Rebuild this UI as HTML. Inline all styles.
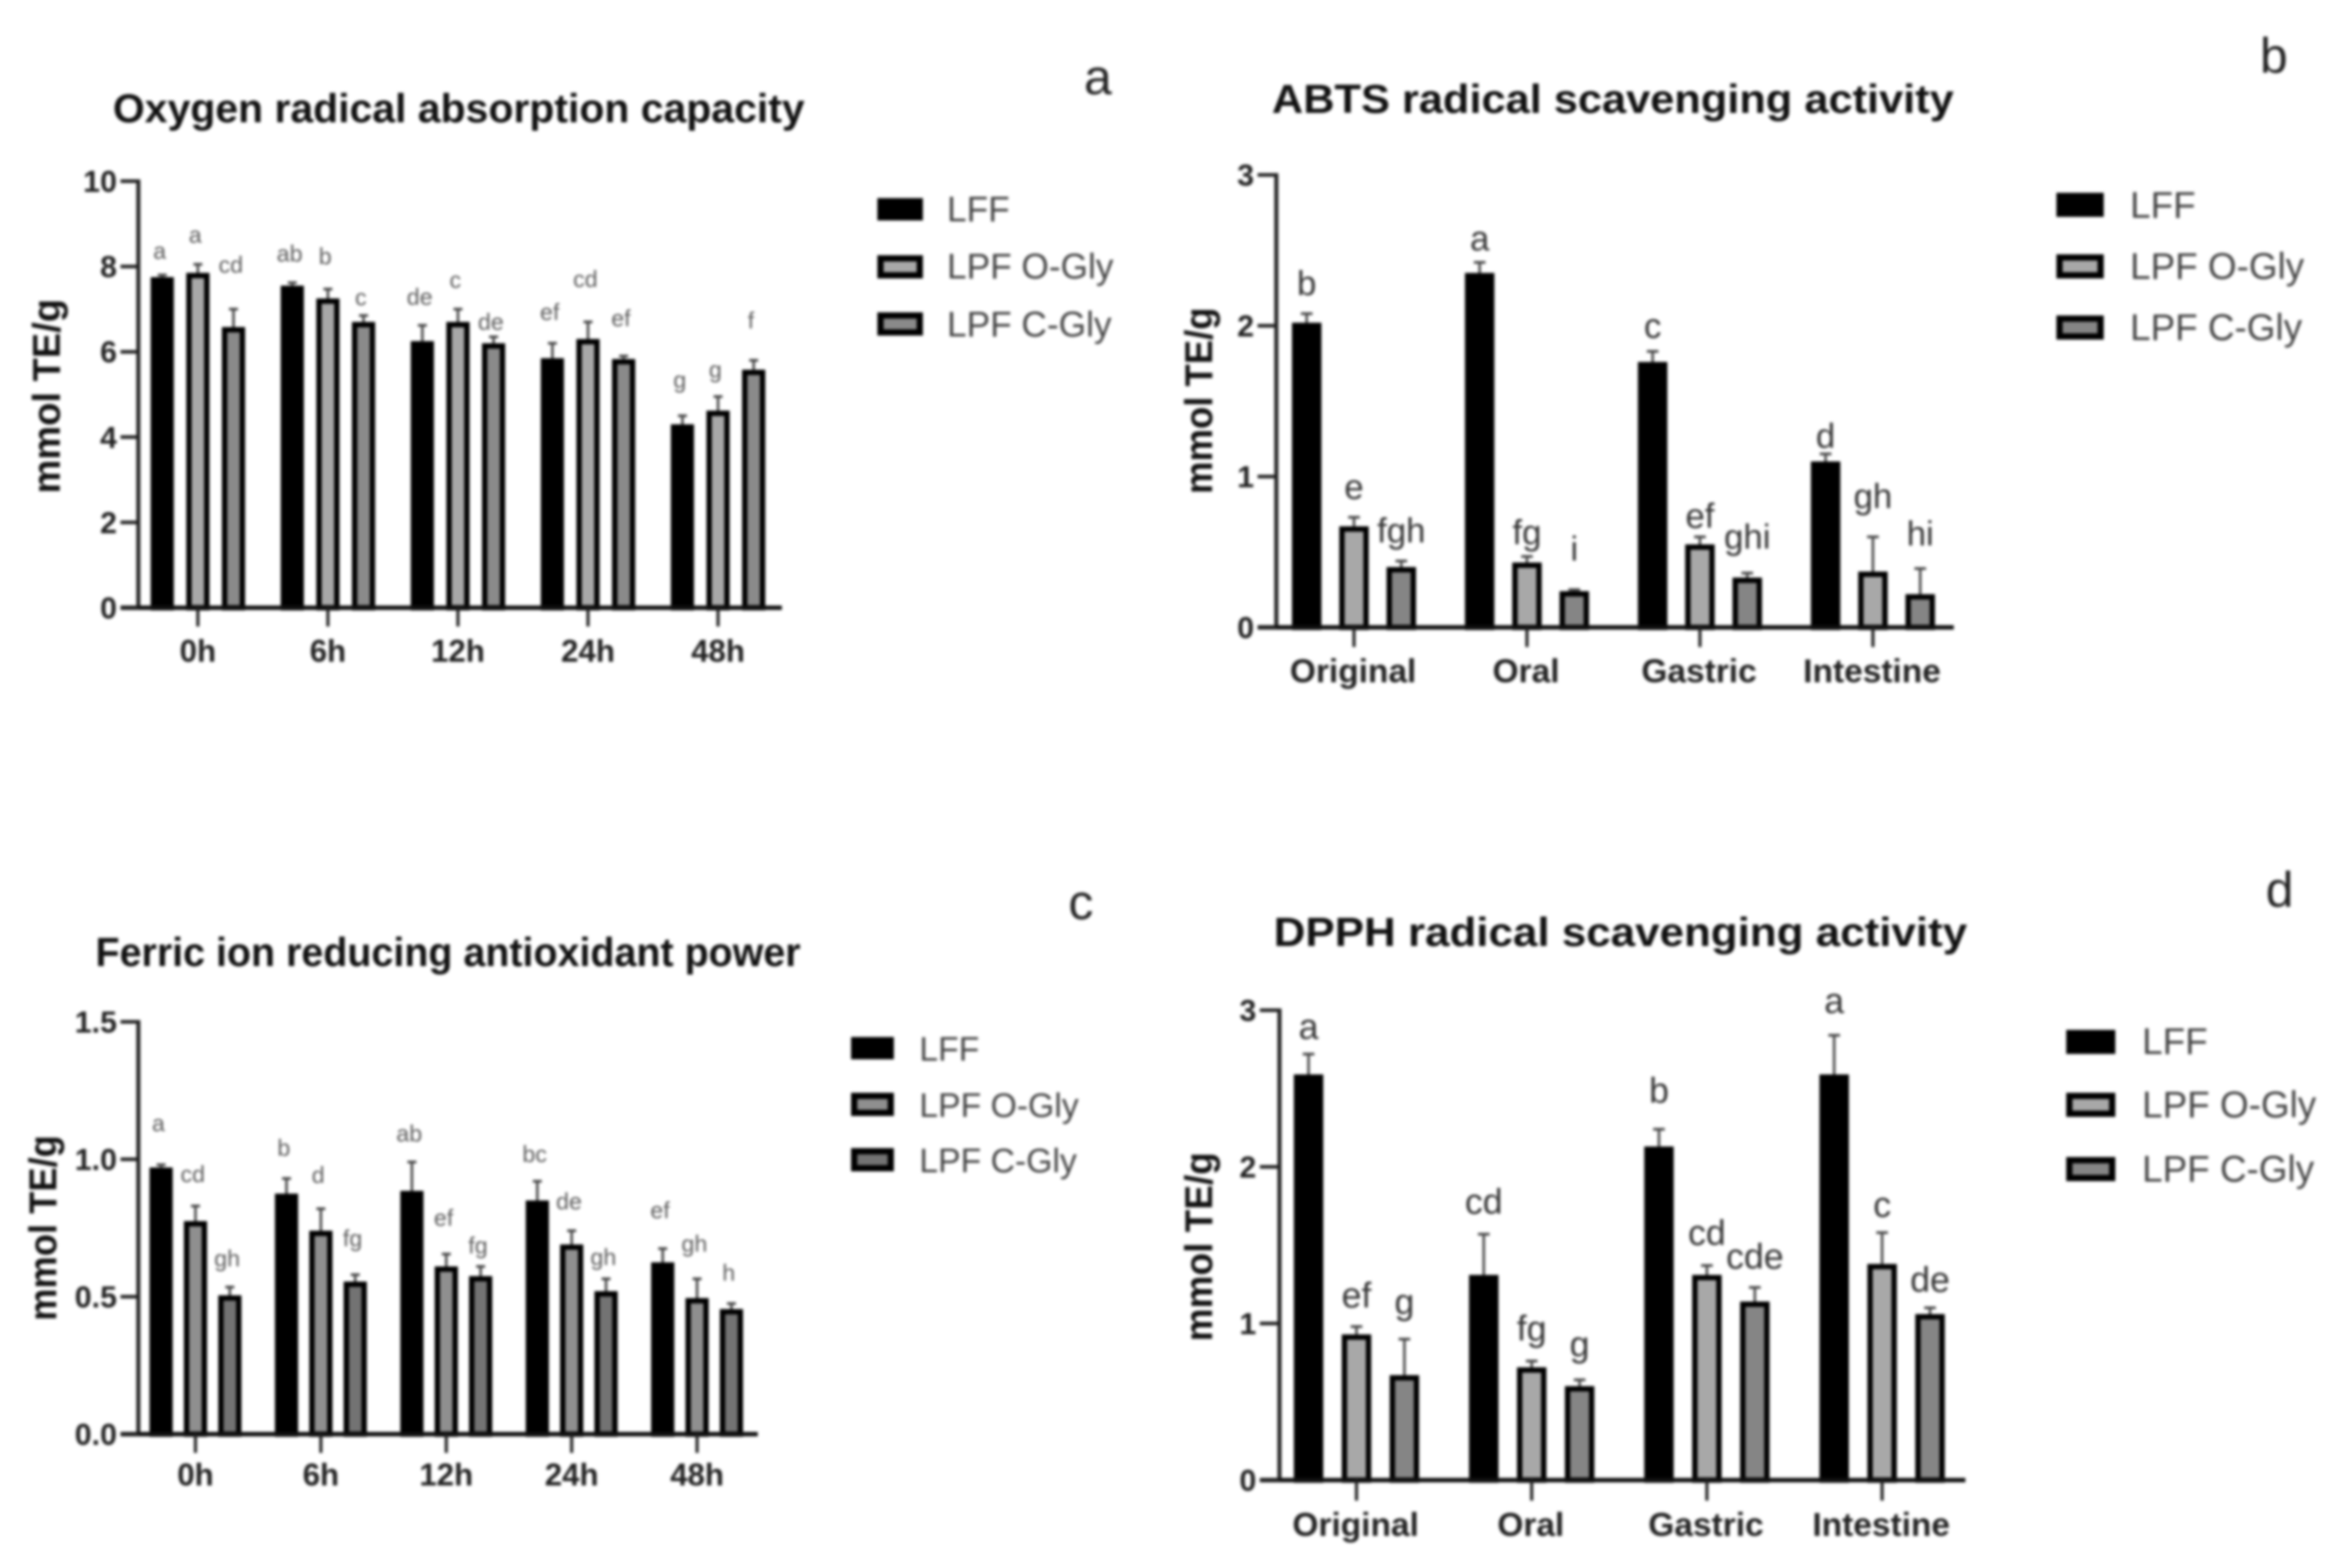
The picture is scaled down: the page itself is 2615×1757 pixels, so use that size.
<!DOCTYPE html>
<html lang="en">
<head>
<meta charset="utf-8">
<title>Antioxidant activity bar charts</title>
<style>
html,body{margin:0;padding:0;background:#fff;}
svg{display:block;filter:blur(1.5px);font-family:"Liberation Sans",sans-serif;}
.title{font-weight:700;font-size:45px;fill:#111;}
.ytitle{font-weight:700;font-size:44px;fill:#111;text-anchor:middle;}
.legend{fill:#444;}
.letter{font-size:56px;fill:#222;}
</style>
</head>
<body>
<svg id="chart" width="2615" height="1757" viewBox="0 0 2615 1757" xmlns="http://www.w3.org/2000/svg">
<rect width="2615" height="1757" fill="#fff"/>

<g id="panel-a">
  <text class="title" x="126.5" y="137" textLength="775" lengthAdjust="spacingAndGlyphs">Oxygen radical absorption capacity</text>
  <text class="ytitle" transform="translate(67,444) rotate(-90)" textLength="218" lengthAdjust="spacingAndGlyphs">mmol TE/g</text>
  <text class="letter" x="1214.5" y="105.5">a</text>
  <g font-size="39.5">
    <rect x="983" y="222" width="51" height="25" fill="#000"/>
    <text class="legend" x="1061" y="248">LFF</text>
    <rect x="986.5" y="289.5" width="44" height="19" fill="#a8a8a8" stroke="#000" stroke-width="7"/>
    <text class="legend" x="1061" y="312">LPF O-Gly</text>
    <rect x="986.5" y="353.5" width="44" height="19" fill="#8a8a8a" stroke="#000" stroke-width="7"/>
    <text class="legend" x="1061" y="377">LPF C-Gly</text>
  </g>
</g>

<g id="panel-b">
  <text class="title" x="1425" y="126.5" textLength="764" lengthAdjust="spacingAndGlyphs">ABTS radical scavenging activity</text>
  <text class="ytitle" transform="translate(1358,449) rotate(-90)" textLength="209" lengthAdjust="spacingAndGlyphs">mmol TE/g</text>
  <text class="letter" x="2532" y="81.5">b</text>
  <g font-size="41.3">
    <rect x="2304" y="216" width="53" height="27" fill="#000"/>
    <text class="legend" x="2386.5" y="244">LFF</text>
    <rect x="2307.5" y="288.5" width="46" height="20" fill="#a8a8a8" stroke="#000" stroke-width="7"/>
    <text class="legend" x="2386.5" y="312.5">LPF O-Gly</text>
    <rect x="2307.5" y="357" width="46" height="20" fill="#858585" stroke="#000" stroke-width="7"/>
    <text class="legend" x="2386.5" y="381">LPF C-Gly</text>
  </g>
</g>

<g id="panel-c">
  <text class="title" x="107" y="1082.5" textLength="790" lengthAdjust="spacingAndGlyphs">Ferric ion reducing antioxidant power</text>
  <text class="ytitle" transform="translate(63,1376) rotate(-90)" textLength="208" lengthAdjust="spacingAndGlyphs">mmol TE/g</text>
  <text class="letter" x="1197" y="1030">c</text>
  <g font-size="37.8">
    <rect x="953.5" y="1162" width="48" height="25" fill="#000"/>
    <text class="legend" x="1030" y="1188.5">LFF</text>
    <rect x="957" y="1228" width="41" height="19" fill="#8f8f8f" stroke="#000" stroke-width="7"/>
    <text class="legend" x="1030" y="1251.5">LPF O-Gly</text>
    <rect x="957" y="1290" width="41" height="19" fill="#737373" stroke="#000" stroke-width="7"/>
    <text class="legend" x="1030" y="1313.5">LPF C-Gly</text>
  </g>
</g>

<g id="panel-d">
  <text class="title" x="1427" y="1060" textLength="777" lengthAdjust="spacingAndGlyphs">DPPH radical scavenging activity</text>
  <text class="ytitle" transform="translate(1358,1397) rotate(-90)" textLength="212" lengthAdjust="spacingAndGlyphs">mmol TE/g</text>
  <text class="letter" x="2538.5" y="1016">d</text>
  <g font-size="41.3">
    <rect x="2315" y="1154" width="55" height="27" fill="#000"/>
    <text class="legend" x="2400" y="1181">LFF</text>
    <rect x="2318.5" y="1228" width="48" height="20" fill="#a8a8a8" stroke="#000" stroke-width="7"/>
    <text class="legend" x="2400" y="1252">LPF O-Gly</text>
    <rect x="2318.5" y="1300" width="48" height="20" fill="#858585" stroke="#000" stroke-width="7"/>
    <text class="legend" x="2400" y="1324">LPF C-Gly</text>
  </g>
</g>
</svg>

<script>
// Categories and tick labels
const timeCategories = ['0h', '6h', '12h', '24h', '48h'];
const stageCategories = ['Original', 'Oral', 'Gastric', 'Intestine'];
const aTicks = ['0', '2', '4', '6', '8', '10'];
const bTicks = ['0', '1', '2', '3'];
const cTicks = ['0.0', '0.5', '1.0', '1.5'];
const dTicks = ['0', '1', '2', '3'];

// Panel a: ORAC
const aLff = [7.75, 7.55, 6.25, 5.85, 4.3];
const aOGly = [7.85, 7.25, 6.7, 6.3, 4.62];
const aCGly = [6.58, 6.7, 6.2, 5.83, 5.58];
const aLffErr = [0.05, 0.07, 0.37, 0.35, 0.2];
const aOGlyErr = [0.2, 0.22, 0.3, 0.4, 0.33];
const aCGlyErr = [0.42, 0.15, 0.15, 0.07, 0.22];
const aLffSig = ['a', 'ab', 'de', 'ef', 'g'];
const aOGlySig = ['a', 'b', 'c', 'cd', 'g'];
const aCGlySig = ['cd', 'c', 'de', 'ef', 'f'];
const aLffLift = [0.54, 0.66, 0.65, 0.71, 0.82];
const aOGlyLift = [0.67, 0.75, 0.66, 0.98, 0.61];
const aCGlyLift = [1.02, 0.41, 0.33, 0.86, 0.91];

// Panel b: ABTS
const bLff = [2.02, 2.35, 1.76, 1.1];
const bOGly = [0.67, 0.43, 0.55, 0.37];
const bCGly = [0.4, 0.24, 0.33, 0.22];
const bLffErr = [0.06, 0.07, 0.07, 0.05];
const bOGlyErr = [0.06, 0.04, 0.05, 0.23];
const bCGlyErr = [0.04, 0.01, 0.03, 0.17];
const bLffSig = ['b', 'a', 'c', 'd'];
const bOGlySig = ['e', 'fg', 'ef', 'gh'];
const bCGlySig = ['fgh', 'i', 'ghi', 'hi'];
const bLffLift = [0.19, 0.15, 0.16, 0.11];
const bOGlyLift = [0.19, 0.15, 0.13, 0.26];
const bCGlyLift = [0.19, 0.26, 0.23, 0.22];

// Panel c: FRAP
const cLff = [0.97, 0.875, 0.885, 0.85, 0.625];
const cOGly = [0.775, 0.74, 0.61, 0.69, 0.495];
const cCGly = [0.505, 0.555, 0.575, 0.52, 0.455];
const cLffErr = [0.01, 0.055, 0.105, 0.07, 0.05];
const cOGlyErr = [0.055, 0.08, 0.045, 0.05, 0.07];
const cCGlyErr = [0.03, 0.025, 0.035, 0.045, 0.02];
const cLffSig = ['a', 'b', 'ab', 'bc', 'ef'];
const cOGlySig = ['cd', 'd', 'ef', 'de', 'gh'];
const cCGlySig = ['gh', 'fg', 'fg', 'gh', 'h'];
const cLffLift = [0.148, 0.109, 0.101, 0.096, 0.136];
const cOGlyLift = [0.112, 0.119, 0.128, 0.103, 0.124];
const cCGlyLift = [0.1, 0.128, 0.072, 0.075, 0.108];

// Panel d: DPPH
const dLff = [2.59, 1.31, 2.13, 2.59];
const dOGly = [0.93, 0.72, 1.31, 1.38];
const dCGly = [0.67, 0.6, 1.14, 1.06];
const dLffErr = [0.13, 0.26, 0.11, 0.25];
const dOGlyErr = [0.05, 0.04, 0.06, 0.2];
const dCGlyErr = [0.23, 0.04, 0.09, 0.04];
const dLffSig = ['a', 'cd', 'b', 'a'];
const dOGlySig = ['ef', 'fg', 'cd', 'c'];
const dCGlySig = ['g', 'g', 'cde', 'de'];
const dLffLift = [0.165, 0.2, 0.24, 0.21];
const dOGlyLift = [0.19, 0.2, 0.2, 0.17];
const dCGlyLift = [0.23, 0.22, 0.19, 0.17];

const SVG_NS = 'http://www.w3.org/2000/svg';

function make(parent, tag, props) {
  const el = document.createElementNS(SVG_NS, tag);
  for (const k in props) el.setAttribute(k, props[k]);
  parent.appendChild(el);
  return el;
}

function drawPanel(cfg) {
  const root = document.getElementById(cfg.id);
  const yScale = v => cfg.y0 + (cfg.yTop - cfg.y0) * (v / cfg.yMax);
  const xGroup = i => cfg.x0 + cfg.step * i;
  const tickCount = cfg.ticks.length;

  cfg.series.forEach((s, si) => {
    s.values.forEach((v, i) => {
      const cx = xGroup(i) + (si - 1) * cfg.gap;
      const topPx = yScale(v + s.err[i]);

      const whisker = make(root, 'line', {x1: cx, x2: cx, y1: yScale(v), y2: topPx, stroke: '#444', 'stroke-width': 2.8});
      
      

      const cap = make(root, 'line', {x1: cx - cfg.cap, x2: cx + cfg.cap, y1: topPx, y2: topPx, stroke: '#444', 'stroke-width': 3});
      
      

      const inset = cfg.border / 2;
      const bar = make(root, 'rect', {
        x: cx - cfg.barW / 2 + inset,
        y: yScale(v) + inset,
        width: cfg.barW - cfg.border,
        height: Math.max(0, cfg.y0 - yScale(v) - inset),
        fill: s.fill,
        stroke: '#000',
        'stroke-width': cfg.border
      });
      
      

      const lab = make(root, 'text', {
        x: cx + cfg.sigDx,
        y: topPx - (cfg.y0 - cfg.yTop) * (s.lift[i] / cfg.yMax) + cfg.sigSize * 0.3,
        'text-anchor': 'middle',
        'font-size': cfg.sigSize,
        fill: cfg.sigColor
      });
      
      
      lab.textContent = s.sig[i];
    });
  });

  const yAxis = make(root, 'line', {x1: cfg.axisX, x2: cfg.axisX, y1: cfg.yTop - 2, y2: cfg.y0 + 2, stroke: '#222', 'stroke-width': 4.5});
  
  

  const xAxis = make(root, 'line', {x1: cfg.axisX - cfg.tickLen, x2: cfg.xEnd, y1: cfg.y0, y2: cfg.y0, stroke: '#111', 'stroke-width': 5});
  
  

  cfg.ticks.forEach((t, i) => {
    const y = cfg.y0 + (cfg.yTop - cfg.y0) * (i / (tickCount - 1));
    const mark = make(root, 'line', {x1: cfg.axisX - cfg.tickLen, x2: cfg.axisX, y1: y, y2: y, stroke: '#222', 'stroke-width': 4});
    
    

    const lab = make(root, 'text', {x: cfg.axisX - cfg.tickLen - 4, y: y + 12, 'text-anchor': 'end', 'font-size': 34, 'font-weight': 700, fill: '#222'});
    
    
    lab.textContent = t;
  });

  cfg.categories.forEach((c, i) => {
    const x = xGroup(i);
    const mark = make(root, 'line', {x1: x, x2: x, y1: cfg.y0, y2: cfg.y0 + cfg.tickLen + 1, stroke: '#222', 'stroke-width': 3.5});
    
    

    const lab = make(root, 'text', {x: x + cfg.catDx, y: cfg.catY, 'text-anchor': 'middle', 'font-size': cfg.catSize, 'font-weight': 700, fill: '#222'});
    
    
    lab.textContent = c;
  });
}

const fillO = '#a8a8a8', fillC = '#8a8a8a';

drawPanel({
  id: 'panel-a', axisX: 155, xEnd: 876, y0: 681, yTop: 203, yMax: 10,
  x0: 221.7, step: 145.7, gap: 39.9, barW: 26, border: 6, cap: 5, tickLen: 20,
  catY: 741.5, catSize: 35, catDx: 0, sigSize: 26, sigColor: '#5c5c5c', sigDx: -3,
  ticks: aTicks, categories: timeCategories,
  series: [
    {values: aLff, err: aLffErr, sig: aLffSig, lift: aLffLift, fill: '#000'},
    {values: aOGly, err: aOGlyErr, sig: aOGlySig, lift: aOGlyLift, fill: fillO},
    {values: aCGly, err: aCGlyErr, sig: aCGlySig, lift: aCGlyLift, fill: fillC}
  ]
});

drawPanel({
  id: 'panel-b', axisX: 1430, xEnd: 2189, y0: 703, yTop: 196, yMax: 3,
  x0: 1517, step: 193.8, gap: 53, barW: 33, border: 6, cap: 6.5, tickLen: 21,
  catY: 764.5, catSize: 37.5, catDx: -1, sigSize: 39, sigColor: '#333', sigDx: 0,
  ticks: bTicks, categories: stageCategories,
  series: [
    {values: bLff, err: bLffErr, sig: bLffSig, lift: bLffLift, fill: '#000'},
    {values: bOGly, err: bOGlyErr, sig: bOGlySig, lift: bOGlyLift, fill: fillO},
    {values: bCGly, err: bCGlyErr, sig: bCGlySig, lift: bCGlyLift, fill: '#858585'}
  ]
});

drawPanel({
  id: 'panel-c', axisX: 155, xEnd: 849, y0: 1607, yTop: 1145, yMax: 1.5,
  x0: 219, step: 140.5, gap: 38.5, barW: 26, border: 6, cap: 5, tickLen: 20,
  catY: 1664.5, catSize: 35, catDx: 0, sigSize: 26, sigColor: '#5c5c5c', sigDx: -3,
  ticks: cTicks, categories: timeCategories,
  series: [
    {values: cLff, err: cLffErr, sig: cLffSig, lift: cLffLift, fill: '#000'},
    {values: cOGly, err: cOGlyErr, sig: cOGlySig, lift: cOGlyLift, fill: '#8f8f8f'},
    {values: cCGly, err: cCGlyErr, sig: cCGlySig, lift: cCGlyLift, fill: '#737373'}
  ]
});

drawPanel({
  id: 'panel-d', axisX: 1433.5, xEnd: 2202, y0: 1658.5, yTop: 1132, yMax: 3,
  x0: 1519.8, step: 196.3, gap: 53.7, barW: 33, border: 6, cap: 6.5, tickLen: 22,
  catY: 1721, catSize: 37.5, catDx: -1, sigSize: 40, sigColor: '#333', sigDx: 0,
  ticks: dTicks, categories: stageCategories,
  series: [
    {values: dLff, err: dLffErr, sig: dLffSig, lift: dLffLift, fill: '#000'},
    {values: dOGly, err: dOGlyErr, sig: dOGlySig, lift: dOGlyLift, fill: fillO},
    {values: dCGly, err: dCGlyErr, sig: dCGlySig, lift: dCGlyLift, fill: '#858585'}
  ]
});
</script>
</body>
</html>
